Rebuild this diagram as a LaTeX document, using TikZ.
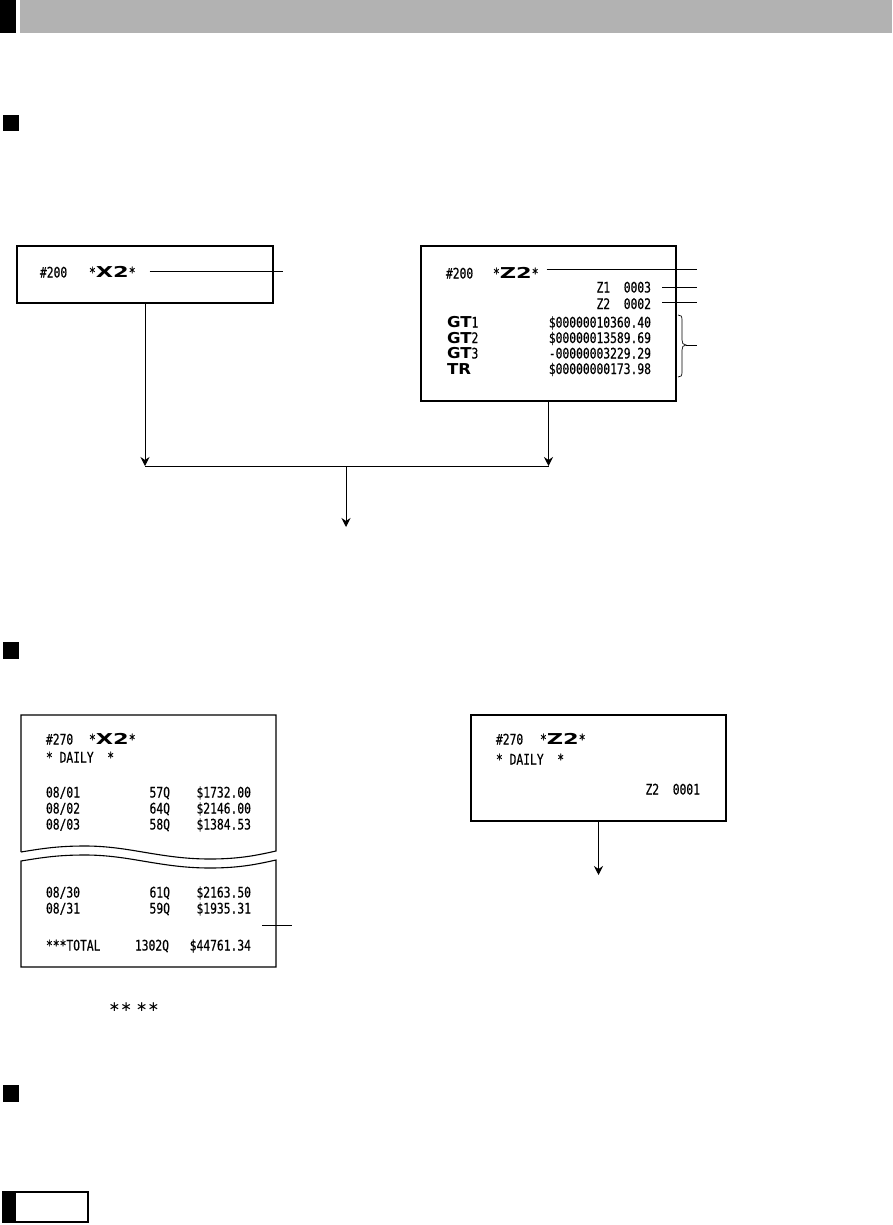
\documentclass[tikz,border=0pt]{standalone}
\usepackage{fontspec}
\usetikzlibrary{arrows.meta}
\newfontfamily\rc[FakeStretch=0.78,FakeBold=0.4]{DejaVu Sans Mono}
\newfontfamily\bx[FakeStretch=1.5]{DejaVu Sans Bold}
\newfontfamily\bg[FakeStretch=1.1]{DejaVu Sans Bold}
\newfontfamily\stf{DejaVu Sans}
\definecolor{hdr}{RGB}{178,178,178}
\newcommand\bigx[1]{{\bx\fontsize{15}{16}\selectfont #1}}
\newcommand\gtf[1]{{\bg\fontsize{15}{16}\selectfont #1}}
\tikzset{
  rtext/.style={font=\rc\fontsize{14.5}{16}\selectfont, inner sep=0pt, outer sep=0pt},
  tl/.style={rtext, anchor=base west},
  tr/.style={rtext, anchor=base east},
  rbox/.style={draw, line width=1.1pt, inner sep=0pt, outer sep=0pt},
  lead/.style={line width=1pt},
  arr/.style={line width=1pt, -{Stealth[length=9pt,width=9pt,inset=3pt]}},
  paper/.style={line width=1.1pt},
}
\begin{document}
\begin{tikzpicture}[x=1pt,y=-1pt]
\useasboundingbox (0,0) rectangle (892,1225);
% header
\fill[black] (0,0) rectangle (16,33);
\fill[hdr] (20,0) rectangle (892,33);
% section squares
\fill[black] (3,115) rectangle (19,131);
\fill[black] (3,642) rectangle (19,659);
\fill[black] (3,1085) rectangle (19,1102);
% bottom box
\fill[black] (3,1192) rectangle (16,1222);
\draw[line width=1.2pt] (3,1192) rectangle (88,1222);

% ---- X2 receipt (top left)
\node[rbox, minimum width=256, minimum height=57] (x2box) at (145,274.5) {};
\node[tl] (x2num) at (40,277.5) {\#200};
\node[tl] (x2t) at (89,277.5) {*\bigx{X2}*};
\coordinate (x2lead) at (283,271.5);
\draw[lead] ([xshift=14pt]x2t.east |- x2lead) -- (x2lead);

% ---- Z2 receipt (top right)
\node[rbox, minimum width=255, minimum height=155] (z2box) at (548.5,323.5) {};
\node[tl] (z2num) at (446,278.5) {\#200};
\node[tl] (z2t) at (493,278.5) {*\bigx{Z2}*};
\node[tr] (z1c) at (651,292.5) {Z1~~0003};
\node[tr] (z2c) at (651,309) {Z2~~0002};
\node[tl] (gt1) at (447,327.5) {\gtf{GT}1};
\node[tr] (gt1v) at (651,327.5) {\$00000010360.40};
\node[tl] (gt2) at (447,343) {\gtf{GT}2};
\node[tr] (gt2v) at (651,343) {\$00000013589.69};
\node[tl] (gt3) at (447,358.5) {\gtf{GT}3};
\node[tr] (gt3v) at (651,358.5) {-00000003229.29};
\node[tl] (trn) at (447,374) {\gtf{TR}};
\node[tr] (trv) at (651,374) {\$00000000173.98};
\coordinate (z2lead) at (697,269);
\coordinate (z1lead) at (697,287);
\coordinate (z2clead) at (697,302);
\draw[lead] ([xshift=8pt]z2t.east |- z2lead) -- (z2lead);
\draw[lead] ([xshift=11pt]z1c.east |- z1lead) -- (z1lead);
\draw[lead] ([xshift=11pt]z2c.east |- z2clead) -- (z2clead);
% brace
\coordinate (brtip) at (686,345);
\coordinate (brend) at (697,345);
\draw[line width=0.7pt] (678,315) .. controls (681,315) and (682,316) .. (682,320) -- (682,340)
  .. controls (682,343) and (683,345) .. (brtip)
  .. controls (683,345) and (682,347) .. (682,350) -- (682,372)
  .. controls (682,376) and (681,377) .. (678,377);
\draw[lead] (brtip) -- (brend);

% ---- connectors
\coordinate (bar) at (0,466);
\coordinate (mid) at (346,466);
\coordinate (midend) at (346,527);
\draw[arr] (x2box.south) -- (x2box.south |- bar);
\draw[arr] (z2box.south) -- (z2box.south |- bar);
\draw[lead] (x2box.south |- bar) -- (z2box.south |- bar);
\draw[arr] (mid) -- (midend);

% ---- daily X2 receipt (torn)
\draw[paper] (21,852) -- (21,715) -- (276,715) -- (276,851)
  .. controls (258,855) and (240,859) .. (210,859)
  .. controls (160,859) and (130,846) .. (85,846)
  .. controls (60,846) and (45,848) .. (21,852);
\draw[paper] (21,861)
  .. controls (45,857) and (60,855) .. (85,855)
  .. controls (130,855) and (160,868) .. (210,868)
  .. controls (240,868) and (258,864) .. (276,860)
  -- (276,967) -- (21,967) -- cycle;
\node[tl] (dxnum) at (46,744.5) {\#270};
\node[tl] (dxt) at (89,744.5) {*\bigx{X2}*};
\node[tl] (dxd) at (46,762.5) {*~DAILY~~*};
\node[tl] (r1d) at (46,797.5) {08/01};
\node[tr] (r1q) at (170,797.5) {57Q};
\node[tr] (r1v) at (251,797.5) {\$1732.00};
\node[tl] (r2d) at (46,813.5) {08/02};
\node[tr] (r2q) at (170,813.5) {64Q};
\node[tr] (r2v) at (251,813.5) {\$2146.00};
\node[tl] (r3d) at (46,829.5) {08/03};
\node[tr] (r3q) at (170,829.5) {58Q};
\node[tr] (r3v) at (251,829.5) {\$1384.53};
\node[tl] (r4d) at (46,897.5) {08/30};
\node[tr] (r4q) at (170,897.5) {61Q};
\node[tr] (r4v) at (251,897.5) {\$2163.50};
\node[tl] (r5d) at (46,913.5) {08/31};
\node[tr] (r5q) at (170,913.5) {59Q};
\node[tr] (r5v) at (251,913.5) {\$1935.31};
\node[tl] (tot) at (46,950.5) {***TOTAL};
\node[tr] (totq) at (169,950.5) {1302Q};
\node[tr] (totv) at (251,950.5) {\$44761.34};
\coordinate (dxl0) at (262,925);
\coordinate (dxl1) at (292,925);
\draw[lead] (dxl0) -- (dxl1);
\node[inner sep=0pt, font=\stf\fontsize{14}{14}\selectfont] (stars) at (134,1007) {∗∗\hspace{4pt}∗∗};

% ---- daily Z2 receipt
\node[rbox, minimum width=255, minimum height=106] (z2d) at (598.5,768) {};
\node[tl] (dznum) at (496,744.5) {\#270};
\node[tl] (dzt) at (540,744.5) {*\bigx{Z2}*};
\node[tl] (dzd) at (496,764.5) {*~DAILY~~*};
\node[tr] (dzc) at (700,794.5) {Z2~~0001};
\coordinate (dzend) at (598.5,875);
\draw[arr] (z2d.south) -- (dzend);
\end{tikzpicture}
\end{document}
